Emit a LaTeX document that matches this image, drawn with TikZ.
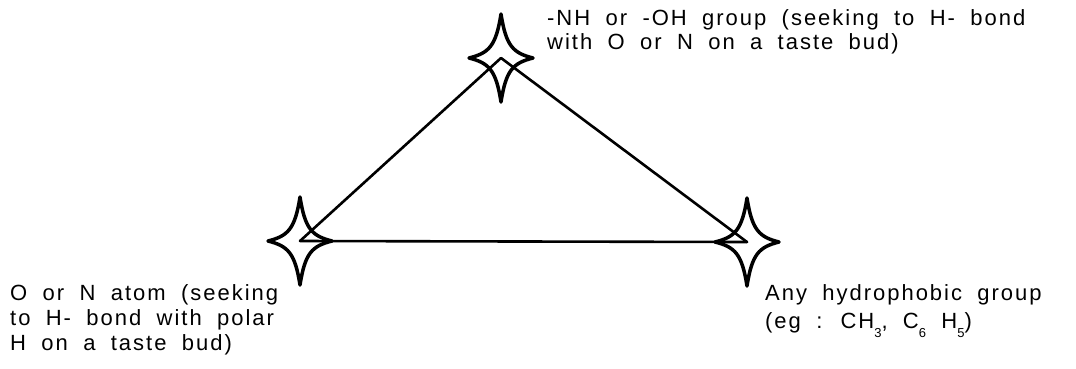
\documentclass[tikz,border=0pt]{standalone}
\usepackage{fontspec}
\setmainfont{Liberation Sans}[LetterSpace=9,WordSpace=1.9]
\newcommand\sbs[1]{\raisebox{-0.45em}{\fontsize{13pt}{13pt}\selectfont #1}}
\begin{document}
\begin{tikzpicture}[x=1pt,y=-1pt,
  lbl/.style={anchor=base west,inner sep=0pt,font=\fontsize{22pt}{26pt}\selectfont},
  edge/.style={line width=2.6pt,line cap=round},
  starshape/.style={draw=black,fill=white,line width=3.5pt,line join=round}]
\useasboundingbox (0,0) rectangle (1076,368);
% star centres
\coordinate (T) at (501,58);
\coordinate (L) at (300,241);
\coordinate (R) at (747,242);
% stars
\foreach \c in {T,L,R}{
  \draw[starshape,shift={(\c)}] (0,-44) .. controls (5,-12) and (12,-5) .. (32,0)
     .. controls (12,5) and (5,12) .. (0,44)
     .. controls (-5,12) and (-12,5) .. (-32,0)
     .. controls (-12,-5) and (-5,-12) .. cycle;
}
% triangle
\draw[edge] (T) -- (L);
\draw[edge] (T) -- (R);
\draw[edge] (L) -- (R);
% labels
\node[lbl] (t1) at (547,25) {-NH or -OH group (seeking to H- bond};
\node[lbl] (t2) at (547,49) {with O or N on a taste bud)};
\node[lbl] (l1) at (10,300) {O or N atom (seeking};
\node[lbl] (l2) at (10,325) {to H- bond with polar};
\node[lbl] (l3) at (10,350) {H on a taste bud)};
\node[lbl] (r1) at (765,300) {Any hydrophobic group};
\node[lbl] (r2) at (765,328) {(eg : CH\sbs{3}, C\sbs{6} H\sbs{5})};
\end{tikzpicture}
\end{document}
